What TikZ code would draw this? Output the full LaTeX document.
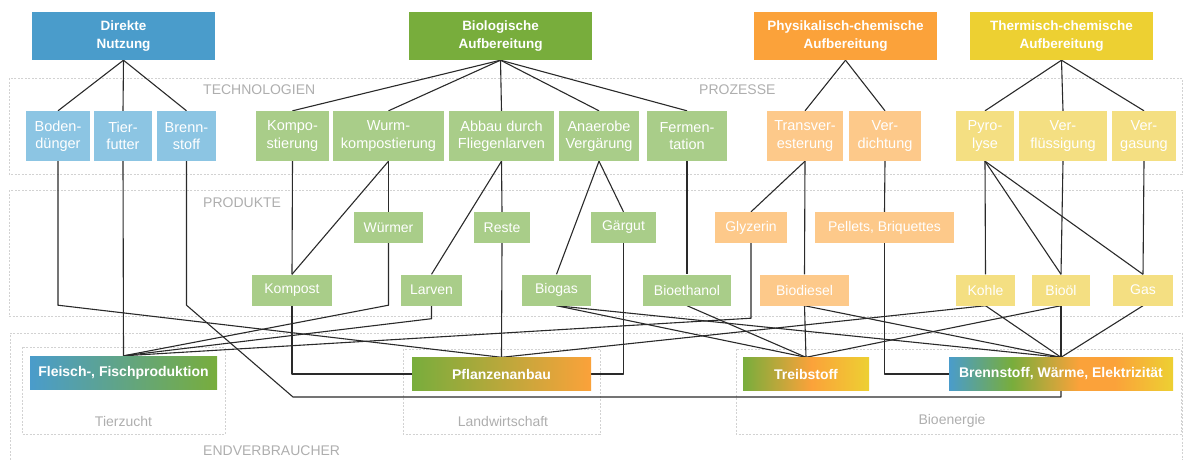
\documentclass[tikz,border=0pt]{standalone}
\usepackage{fontspec}
\setmainfont{Liberation Sans}
\usetikzlibrary{backgrounds}
\definecolor{dblue}{HTML}{4A9CCB}
\definecolor{lblue}{HTML}{8CC5E3}
\definecolor{dgreen}{HTML}{78AD3C}
\definecolor{lgreen}{HTML}{A9CD89}
\definecolor{dorange}{HTML}{FBA23A}
\definecolor{lorange}{HTML}{FDC98A}
\definecolor{dyellow}{HTML}{EDD032}
\definecolor{lyellow}{HTML}{F4DF82}
\definecolor{lblgray}{HTML}{AEAEAE}
\definecolor{pangray}{HTML}{D2D2D2}
\definecolor{linec}{HTML}{2A2A2A}
\pgfdeclarehorizontalshading{shFleisch}{100bp}{color(0bp)=(dblue); color(25bp)=(dblue); color(75bp)=(dgreen); color(100bp)=(dgreen)}
\pgfdeclarehorizontalshading{shPflanz}{100bp}{color(0bp)=(dgreen); color(25bp)=(dgreen); color(75bp)=(dorange); color(100bp)=(dorange)}
\pgfdeclarehorizontalshading{shTreib}{100bp}{color(0bp)=(dgreen); color(25bp)=(dgreen); color(52bp)=(dorange); color(75bp)=(dyellow); color(100bp)=(dyellow)}
\pgfdeclarehorizontalshading{shBWE}{100bp}{color(0bp)=(dblue); color(25bp)=(dblue); color(39bp)=(dgreen); color(54bp)=(dorange); color(62bp)=(dorange); color(75bp)=(dyellow); color(100bp)=(dyellow)}
\begin{document}
\begin{tikzpicture}[x=1pt,y=-1pt,
  topbox/.style={inner sep=0pt, minimum height=48pt, text=white, align=center, font=\bfseries\fontsize{13.5}{17.5}\selectfont},
  techbox/.style={inner sep=0pt, minimum height=50pt, text=white, align=center, font=\fontsize{14.5}{17.5}\selectfont},
  prodbox/.style={inner sep=0pt, minimum height=31pt, text=white, font=\fontsize{14}{17}\selectfont},
  endbox/.style={inner sep=0pt, minimum height=33pt, text=white, font=\bfseries\fontsize{14}{17}\selectfont},
  conn/.style={draw=linec, line width=1.1pt, line join=round},
  panel/.style={draw=pangray, line width=0.8pt, dash pattern=on 2pt off 1.5pt},
  lbl/.style={text=lblgray, inner sep=0pt, font=\fontsize{14}{17}\selectfont}]
\useasboundingbox (0,0) rectangle (1183,459);
% top boxes
\node[topbox, fill=dblue, minimum width=183pt] (dn) at (123.5,36) {Direkte\\Nutzung};
\node[topbox, fill=dgreen, minimum width=183pt] (bio) at (500.5,36) {Biologische\\Aufbereitung};
\node[topbox, fill=dorange, minimum width=183pt] (phys) at (845.5,36) {Physikalisch-chemische\\Aufbereitung};
\node[topbox, fill=dyellow, minimum width=183pt] (therm) at (1061.5,36) {Thermisch-chemische\\Aufbereitung};
% technology boxes
\node[techbox, fill=lblue, minimum width=64pt] (boden) at (58,136) {Boden-\\dünger};
\node[techbox, fill=lblue, minimum width=58pt] (tier) at (123,136) {Tier-\\futter};
\node[techbox, fill=lblue, minimum width=59pt] (brenn) at (186.5,136) {Brenn-\\stoff};
\node[techbox, fill=lgreen, minimum width=73pt] (kompo) at (292.5,136) {Kompo-\\stierung};
\node[techbox, fill=lgreen, minimum width=111pt] (wurm) at (388.5,136) {Wurm-\\kompostierung};
\node[techbox, fill=lgreen, minimum width=105pt] (abbau) at (501.5,136) {Abbau durch\\Fliegenlarven};
\node[techbox, fill=lgreen, minimum width=80pt] (anaer) at (599,136) {Anaerobe\\Vergärung};
\node[techbox, fill=lgreen, minimum width=80pt] (ferm) at (687,136) {Fermen-\\tation};
\node[techbox, fill=lorange, minimum width=76pt] (trans) at (805,136) {Transver-\\esterung};
\node[techbox, fill=lorange, minimum width=72pt] (verd) at (885,136) {Ver-\\dichtung};
\node[techbox, fill=lyellow, minimum width=58pt] (pyro) at (985,136) {Pyro-\\lyse};
\node[techbox, fill=lyellow, minimum width=88pt] (verfl) at (1063,136) {Ver-\\flüssigung};
\node[techbox, fill=lyellow, minimum width=64pt] (verg) at (1144,136) {Ver-\\gasung};
% products row 1
\node[prodbox, fill=lgreen, minimum width=69pt] (wuermer) at (388.5,227.5) {Würmer};
\node[prodbox, fill=lgreen, minimum width=56pt] (reste) at (502,227.5) {Reste};
\node[prodbox, fill=lgreen, minimum width=65pt] (gaer) at (623.5,227.5) {Gärgut};
\node[prodbox, fill=lorange, minimum width=72pt] (glyz) at (751,227.5) {Glyzerin};
\node[prodbox, fill=lorange, minimum width=139pt] (pellets) at (884.5,227.5) {Pellets, Briquettes};
% products row 2
\node[prodbox, fill=lgreen, minimum width=80pt] (kompost) at (292,290) {Kompost};
\node[prodbox, fill=lgreen, minimum width=61pt] (larven) at (431.5,290) {Larven};
\node[prodbox, fill=lgreen, minimum width=69pt] (biogas) at (556.5,290) {Biogas};
\node[prodbox, fill=lgreen, minimum width=88pt] (bioeth) at (687,290) {Bioethanol};
\node[prodbox, fill=lorange, minimum width=89pt] (biodiesel) at (804.5,290) {Biodiesel};
\node[prodbox, fill=lyellow, minimum width=59pt] (kohle) at (985.5,290) {Kohle};
\node[prodbox, fill=lyellow, minimum width=58pt] (biooel) at (1061,290) {Bioöl};
\node[prodbox, fill=lyellow, minimum width=60pt] (gas) at (1143,290) {Gas};
% end consumers
\node[endbox, shading=shFleisch, minimum width=187pt] (fleisch) at (123.5,372.5) {Fleisch-, Fischproduktion};
\node[endbox, shading=shPflanz, minimum width=179pt] (pflanzen) at (501.5,374) {Pflanzenanbau};
\node[endbox, shading=shTreib, minimum width=126pt] (treib) at (806,374) {Treibstoff};
\node[endbox, shading=shBWE, minimum width=224pt] (bwe) at (1061,374) {Brennstoff, Wärme, Elektrizität};
% labels
\node[lbl, anchor=west] (lt) at (203,90) {TECHNOLOGIEN};
\node[lbl, anchor=west] (lp) at (699,90) {PROZESSE};
\node[lbl, anchor=west] (lpr) at (203,203) {PRODUKTE};
\node[lbl, anchor=west] (le) at (203,451) {ENDVERBRAUCHER};
\node[lbl] (ltz) at (123.5,421) {Tierzucht};
\node[lbl] (llw) at (503,421) {Landwirtschaft};
\node[lbl] (lbe) at (952,421) {Bioenergie};
\coordinate (bb) at (293,397);
\begin{scope}[on background layer]
% panels
\draw[panel] (9,78) rectangle (1182,174);
\draw[panel] (9,190) rectangle (1182,316);
\draw[panel] (10,470) -- (10,333) -- (1182,333) -- (1182,470);
\draw[panel] (22,347) rectangle (225,434);
\draw[panel] (403,349) rectangle (600,434);
\draw[panel] (736,349) rectangle (1181,434);
% top -> technology
\draw[conn] (dn.south) -- (boden.north);
\draw[conn] (dn.south) -- (tier.north);
\draw[conn] (dn.south) -- (brenn.north);
\draw[conn] (bio.south) -- (kompo.north);
\draw[conn] (bio.south) -- (wurm.north);
\draw[conn] (bio.south) -- (abbau.north);
\draw[conn] (bio.south) -- (anaer.north);
\draw[conn] (bio.south) -- (ferm.north);
\draw[conn] (phys.south) -- (trans.north);
\draw[conn] (phys.south) -- (verd.north);
\draw[conn] (therm.south) -- (pyro.north);
\draw[conn] (therm.south) -- (verfl.north);
\draw[conn] (therm.south) -- (verg.north);
% technology -> products
\draw[conn] (kompo.south) -- (kompost.north);
\draw[conn] (wurm.south) -- (kompost.north);
\draw[conn] (wurm.south) -- (wuermer.north);
\draw[conn] (abbau.south) -- (reste.north);
\draw[conn] (abbau.south) -- (larven.north);
\draw[conn] (anaer.south) -- (biogas.north);
\draw[conn] (anaer.south) -- (gaer.north);
\draw[conn] (ferm.south) -- (bioeth.north);
\draw[conn] (trans.south) -- (glyz.north);
\draw[conn] (trans.south) -- (biodiesel.north);
\draw[conn] (verd.south) -- (pellets.north);
\draw[conn] (pyro.south) -- (kohle.north);
\draw[conn] (pyro.south) -- (biooel.north);
\draw[conn] (pyro.south) -- (gas.north);
\draw[conn] (verfl.south) -- (biooel.north);
\draw[conn] (verg.south) -- (gas.north);
% -> Fleisch
\draw[conn] (tier.south) -- (fleisch.north);
\draw[conn] (wuermer.south) -- ++(0,62) -- (fleisch.north);
\draw[conn] (larven.south) -- ++(0,13) -- (fleisch.north);
\draw[conn] (glyz.south) -- ++(0,75) -- (fleisch.north);
% -> Pflanzenanbau
\draw[conn] (boden.south) -- ++(0,144) -- (pflanzen.north);
\draw[conn] (reste.south) -- (pflanzen.north);
\draw[conn] (kohle.south) -- (pflanzen.north);
\draw[conn] (kompost.south) |- (pflanzen.west);
\draw[conn] (gaer.south) |- (pflanzen.east);
% -> Treibstoff
\draw[conn] (biogas.south) -- (treib.north);
\draw[conn] (bioeth.south) -- (treib.north);
\draw[conn] (biodiesel.south) -- (treib.north);
\draw[conn] (biooel.south) -- (treib.north);
% -> Brennstoff, Waerme, Elektrizitaet
\draw[conn] (biogas.south) -- (bwe.north);
\draw[conn] (biodiesel.south) -- (bwe.north);
\draw[conn] (kohle.south) -- (bwe.north);
\draw[conn] (biooel.south) -- (bwe.north);
\draw[conn] (gas.south) -- (bwe.north);
\draw[conn] (pellets.south) |- (bwe.west);
\draw[conn] (brenn.south) -- ++(0,144) -- (bb) -| (bwe.south);
\end{scope}
\end{tikzpicture}
\end{document}
